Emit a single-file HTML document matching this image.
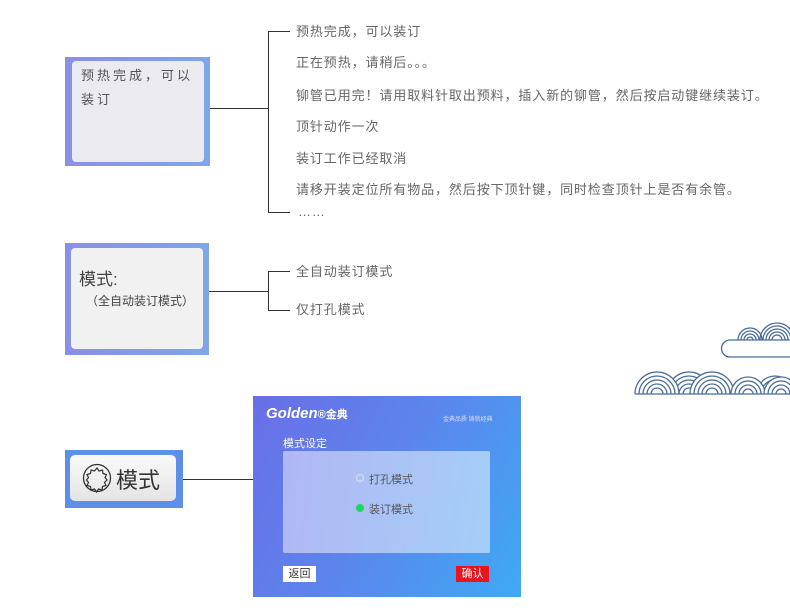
<!DOCTYPE html>
<html><head><meta charset="utf-8"><style>
*{margin:0;padding:0;box-sizing:border-box}
body{width:790px;height:613px;background:#fff;position:relative;overflow:hidden;font-family:"Liberation Sans","Noto Sans CJK SC",sans-serif;color:#555}
.a{position:absolute;white-space:nowrap}
.t{font-size:13px;line-height:16px;color:#666;letter-spacing:0.9px}
.h{position:absolute;height:1px;background:#333}
.v{position:absolute;width:1px;background:#333}
</style></head><body>
<div class="a" style="left:65px;top:57px;width:145px;height:109px;background:linear-gradient(90deg,#8a8fe6,#7fa6ea)"></div>
<div class="a" style="left:72px;top:61px;width:132px;height:101px;background:#ebebef;border-radius:4px"></div>
<div class="a" style="left:81px;top:64px;font-size:13px;line-height:24px;letter-spacing:3px;color:#555">预热完成，可以<br>装订</div>
<div class="h" style="left:210px;top:108px;width:58px"></div>
<div class="v" style="left:268px;top:31px;height:182px"></div>
<div class="h" style="left:268px;top:31px;width:22px"></div>
<div class="h" style="left:268px;top:212px;width:22px"></div>
<div class="a t" style="left:296px;top:24px">预热完成，可以装订</div>
<div class="a t" style="left:296px;top:55px">正在预热，请稍后。。。</div>
<div class="a t" style="left:296px;top:88px">铆管已用完！请用取料针取出预料，插入新的铆管，然后按启动键继续装订。</div>
<div class="a t" style="left:296px;top:119px">顶针动作一次</div>
<div class="a t" style="left:296px;top:151px">装订工作已经取消</div>
<div class="a t" style="left:296px;top:182px">请移开装定位所有物品，然后按下顶针键，同时检查顶针上是否有余管。</div>
<div class="a t" style="left:298px;top:204px">……</div>
<div class="a" style="left:65px;top:243px;width:144px;height:112px;background:linear-gradient(90deg,#8a8fe6,#7fa6ea)"></div>
<div class="a" style="left:71px;top:248px;width:132px;height:101px;background:#f1f1f1;border-radius:4px"></div>
<div class="a" style="left:79px;top:265px;font-size:17px;color:#444">模式:</div>
<div class="a" style="left:86px;top:292px;font-size:12px;color:#444">（全自动装订模式）</div>
<div class="h" style="left:209px;top:291px;width:59px"></div>
<div class="v" style="left:268px;top:271px;height:40px"></div>
<div class="h" style="left:268px;top:271px;width:22px"></div>
<div class="h" style="left:268px;top:310px;width:22px"></div>
<div class="a t" style="left:296px;top:264px">全自动装订模式</div>
<div class="a t" style="left:296px;top:302px">仅打孔模式</div>
<div class="a" style="left:65px;top:450px;width:118px;height:58px;background:#5b8fe8"></div>
<div class="a" style="left:70px;top:455px;width:106px;height:46px;background:linear-gradient(#fafafa,#e4e4e4);border-radius:5px"></div>
<svg class="a" style="left:82px;top:463px" width="30" height="30" viewBox="0 0 30 30"><circle cx="15" cy="15" r="13.5" fill="none" stroke="#333" stroke-width="1.3"/><path d="M15 5 l2 3 3.5-1 .5 3.5 3.5 1-1.5 3 2 2.5-2.5 2.5 1.5 3-3.5 1-.5 3.5-3.5-1-2 3-2-3-3.5 1-.5-3.5-3.5-1 1.5-3-2-2.5 2-2.5-1.5-3 3.5-1 .5-3.5 3.5 1z" fill="none" stroke="#333" stroke-width="1.2"/></svg>
<div class="a" style="left:116px;top:463px;font-size:22px;color:#333">模式</div>
<div class="h" style="left:183px;top:479px;width:70px"></div>
<div class="a" style="left:253px;top:396px;width:268px;height:201px;background:linear-gradient(120deg,#6a6ee6 0%,#5b86ec 50%,#3eaaf4 100%)"></div>
<div class="a" style="left:266px;top:405px;font-size:15px;font-style:italic;font-weight:bold;color:#fff">Golden<span style="font-size:11px;font-style:normal">®金典</span></div>
<div class="a" style="left:443px;top:414px;font-size:6px;color:#dde">金典品质 铸就经典</div>
<div class="a" style="left:283px;top:435px;font-size:11px;color:#fff">模式设定</div>
<div class="a" style="left:283px;top:451px;width:207px;height:102px;background:linear-gradient(90deg,rgba(190,195,245,.85),rgba(180,215,250,.85));border-radius:2px"></div>
<div class="a" style="left:356px;top:474px;width:8px;height:8px;border:1px solid #ddd;border-radius:50%"></div>
<div class="a" style="left:369px;top:471px;font-size:11px;color:#555">打孔模式</div>
<div class="a" style="left:356px;top:504px;width:8px;height:8px;background:#1ed760;border-radius:50%"></div>
<div class="a" style="left:369px;top:501px;font-size:11px;color:#555">装订模式</div>
<div class="a" style="left:283px;top:566px;width:33px;height:16px;background:#fff;font-size:11px;line-height:16px;text-align:center;color:#333">返回</div>
<div class="a" style="left:456px;top:566px;width:33px;height:16px;background:#e8141e;font-size:11px;line-height:16px;text-align:center;color:#fff">确认</div>
<svg class="a" style="left:630px;top:315px" width="160" height="85" viewBox="0 0 160 85" fill="none" stroke="#4a6c9c" stroke-width="1.3">
<path d="M108 25a12 12 0 0 1 24 0M111 25a9 9 0 0 1 18 0M114 25a6 6 0 0 1 12 0M117 25a3 3 0 0 1 6 0"/>
<path d="M130 25a17 17 0 0 1 34 0M133 25a14 14 0 0 1 28 0M136 25a11 11 0 0 1 22 0M139 25a8 8 0 0 1 16 0M142 25a5 5 0 0 1 10 0"/>
<path d="M160 25H100a8 8 0 0 0 0 17H160"/>
<path d="M37 79a22 22 0 0 1 44 0M41 79a18 18 0 0 1 36 0M45 79a14 14 0 0 1 28 0M49 79a10 10 0 0 1 20 0M53 79a6 6 0 0 1 12 0"/>
<path d="M127 79a18 18 0 0 1 36 0M131 79a14 14 0 0 1 28 0M135 79a10 10 0 0 1 20 0M139 79a6 6 0 0 1 12 0"/>
<path d="M5 79a22 22 0 0 1 44 0M9 79a18 18 0 0 1 36 0M13 79a14 14 0 0 1 28 0M17 79a10 10 0 0 1 20 0M21 79a6 6 0 0 1 12 0" fill="#fff"/>
<path d="M60 79a22 22 0 0 1 44 0M64 79a18 18 0 0 1 36 0M68 79a14 14 0 0 1 28 0M72 79a10 10 0 0 1 20 0M76 79a6 6 0 0 1 12 0" fill="#fff"/>
<path d="M101 79a17 17 0 0 1 34 0M105 79a13 13 0 0 1 26 0M109 79a9 9 0 0 1 18 0M113 79a5 5 0 0 1 10 0" fill="#fff"/>
<path d="M134 79a17 17 0 0 1 34 0M138 79a13 13 0 0 1 26 0M142 79a9 9 0 0 1 18 0M146 79a5 5 0 0 1 10 0" fill="#fff"/>
<path d="M5 79H160"/>
</svg>
</body></html>
